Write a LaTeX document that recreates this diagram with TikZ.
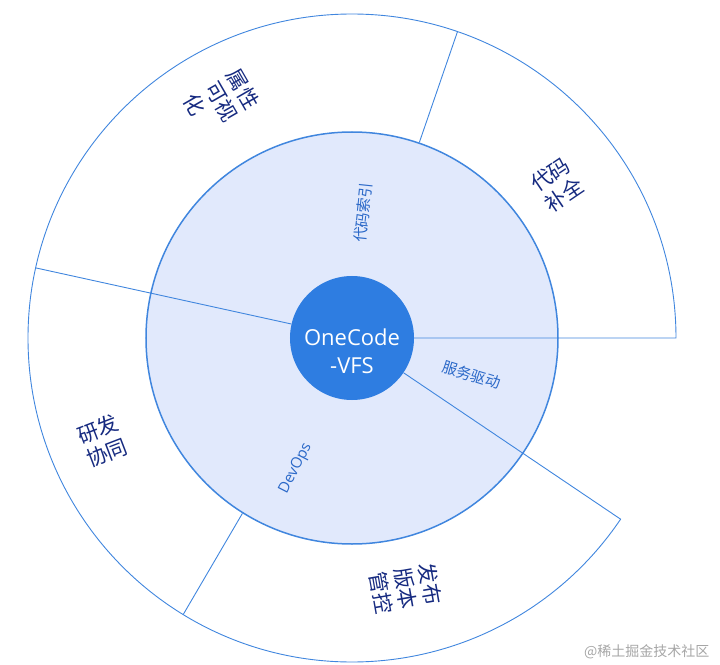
\documentclass[tikz,border=0pt]{standalone}
\usepackage{fontspec}
\setmainfont{Open Sans}
\newfontfamily\cjk{Noto Sans CJK SC}
\usetikzlibrary{positioning}
\definecolor{vfsblue}{RGB}{46,125,225}
\definecolor{corefill}{RGB}{225,233,252}
\definecolor{ringline}{RGB}{64,134,222}
\definecolor{innertext}{RGB}{42,104,200}
\definecolor{outertext}{RGB}{22,42,128}
\tikzstyle{hub}=[circle,fill=vfsblue,minimum size=124pt,inner sep=0pt]
\tikzstyle{hubtext}=[text=white,align=center,font=\fontsize{22}{28}\selectfont]
\tikzstyle{core}=[circle,draw=ringline,line width=1.5pt,fill=corefill,minimum size=412pt,inner sep=0pt]
\tikzstyle{sep}=[draw=ringline,line width=0.9pt]
\tikzstyle{inlabel}=[text=innertext,font=\cjk\fontsize{15}{18}\selectfont]
\tikzstyle{outlabel}=[text=outertext,align=left,font=\cjk\fontsize{21}{25}\selectfont]

\begin{document}
\begin{tikzpicture}[x=1pt,y=1pt]
\useasboundingbox (-352,-326) rectangle (368,338);
\node (core) [core] at (0,0) {};
\node (vfs) [hub, label={[hubtext,yshift=-13pt]center:{OneCode\\-VFS}}] at (0,0) {};
% outer ring
\draw [sep] (vfs.0) -- (0:324) arc[start angle=0,end angle=326,radius=324] -- (vfs.-34);
\draw [sep] (vfs.167.5) -- (167.5:324);
\draw [sep] (core.71) -- (71:324);
\draw [sep] (core.238.6) -- (238.6:324);
% inner labels
\node (index) [inlabel, rotate=84] at (84.9:126) {代码索引};
\node (drive) [inlabel, rotate=-17] at (-17.2:125) {服务驱动};
\node (devops) [inlabel, font=\fontsize{15}{18}\selectfont, rotate=63] at (-113.3:142) {DevOps};
% outer labels
\node (attr) [outlabel, rotate=-60] at (118.9:270) {属性\\可视\\化};
\node (compl) [outlabel, rotate=34] at (36.7:256) {代码\\补全};
\node (collab) [outlabel, rotate=21] at (202.4:270) {研发\\协同};
\node (release) [outlabel, rotate=-80] at (-77.9:256) {发布\\版本\\管控};
\node (mark) [anchor=east, text=black!35, font=\cjk\fontsize{14}{16}\selectfont] at (361,-314) {@稀土掘金技术社区};
\end{tikzpicture}
\end{document}
